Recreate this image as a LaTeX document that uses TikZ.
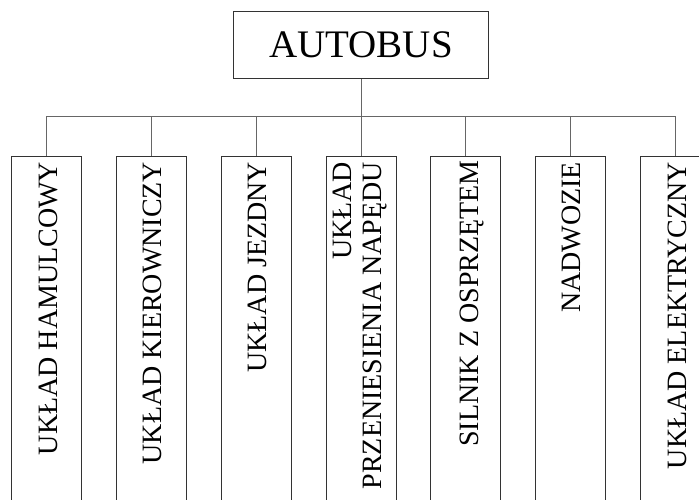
\documentclass[tikz,border=0pt]{standalone}
\usepackage{fontspec}
\setmainfont{Liberation Serif}
\tikzset{
  topbox/.style = {draw=black!80, line width=1pt, minimum width=255pt, minimum height=67pt, inner sep=0pt, font=\fontsize{39}{39}\selectfont},
  partbox/.style = {draw=black!80, line width=1pt, minimum width=70pt, minimum height=400pt, anchor=north, inner sep=0pt},
  partlbl/.style = {rotate=90, anchor=north east, inner sep=0pt, align=right, font=\fontsize{28}{30}\selectfont},
  wire/.style = {draw=black!60, line width=1pt}
}
\begin{document}
\begin{tikzpicture}[x=1pt, y=-1pt]
  \useasboundingbox (0,0) rectangle (699,500);
  \clip (0,0) rectangle (699,500);
  % glowny blok
  \node[topbox] (autobus) at (361,44.8) {AUTOBUS};
  % podzespoly
  \node[partbox] (b1) at (46.5,155.7) {};
  \node[partbox] (b2) at (151.4,155.7) {};
  \node[partbox] (b3) at (256.2,155.7) {};
  \node[partbox] (b4) at (361.1,155.7) {};
  \node[partbox] (b5) at (465.9,155.7) {};
  \node[partbox] (b6) at (570.8,155.7) {};
  \node[partbox] (b7) at (675.6,155.7) {};
  \node[partlbl] (t1) at ([shift={(27.6,6)}]b1.north west) {UKŁAD HAMULCOWY};
  \node[partlbl] (t2) at ([shift={(26.6,6)}]b2.north west) {UKŁAD KIEROWNICZY};
  \node[partlbl] (t3) at ([shift={(27.6,6)}]b3.north west) {UKŁAD JEZDNY};
  \node[partlbl] (t4) at ([shift={(7.3,6)}]b4.north west) {UKŁAD\\PRZENIESIENIA NAPĘDU};
  \node[partlbl] (t5) at ([shift={(29,4.5)}]b5.north west) {SILNIK Z OSPRZĘTEM};
  \node[partlbl] (t6) at ([shift={(26.6,6)}]b6.north west) {NADWOZIE};
  \node[partlbl] (t7) at ([shift={(27.6,6)}]b7.north west) {UKŁAD ELEKTRYCZNY};
  % polaczenia
  \coordinate (bus) at (361,117);
  \draw[wire] (autobus.south) -- (bus);
  \draw[wire] (b1.north) -- (b1.north |- bus) -- (b7.north |- bus) -- (b7.north);
  \foreach \b in {b2,b3,b4,b5,b6}
    \draw[wire] (\b.north) -- (\b.north |- bus);
\end{tikzpicture}
\end{document}
